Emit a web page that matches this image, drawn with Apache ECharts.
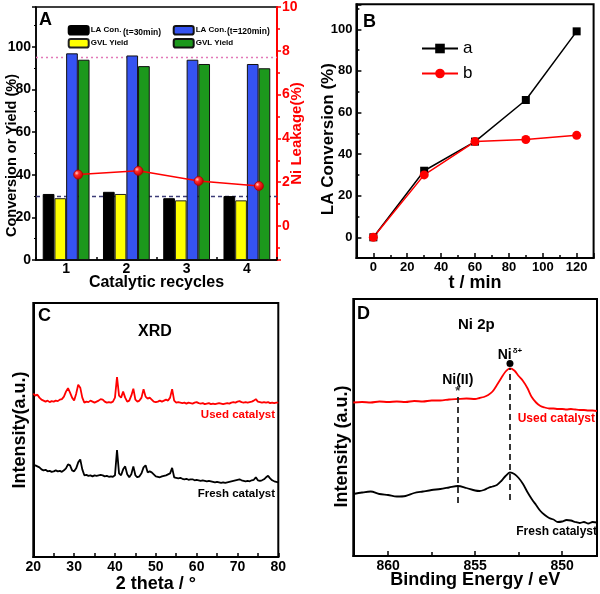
<!DOCTYPE html>
<html>
<head>
<meta charset="utf-8">
<script src="https://cdn.jsdelivr.net/npm/echarts@6.0.0/dist/echarts.min.js"></script>
<style>
html,body{margin:0;padding:0;background:#fff;}
#chart{width:600px;height:594px;}
</style>
</head>
<body>
<div id="chart"></div>
<script>
// ---------- Panel A : catalytic recycles ----------
const recycles = ['1', '2', '3', '4'];
const recycleIndex = [1, 2, 3, 4];
const laConv30 = [31, 32, 29, 30];
const gvlYield30 = [29, 31, 28, 28];
const laConv120 = [97, 96, 94, 92];
const gvlYield120 = [94, 91, 92, 90];
const niLeakage = [2.35, 2.52, 2.06, 1.83];
const refLinesA = [95, 30];

// ---------- Panel B : kinetics ----------
const timeMin = [0, 30, 60, 90, 120];
const convA = [0, 32, 46, 66, 99];
const convB = [0, 30, 46, 47, 49];

// ---------- Panel C : XRD ----------
const xrdAngle = [20,20.5,21,21.5,22,22.5,23,23.5,24,24.5,25,25.5,26,26.5,27,27.5,28,28.5,29,29.5,
  30,30.5,31,31.5,32,32.5,33,33.5,34,34.5,35,35.5,36,36.5,37,37.5,38,38.5,39,39.5,
  40,40.5,41,41.5,42,42.5,43,43.5,44,44.5,45,45.5,46,46.5,47,47.5,48,48.5,49,49.5,
  50,50.5,51,51.5,52,52.5,53,53.5,54,54.5,55,55.5,56,56.5,57,57.5,58,58.5,59,59.5,
  60,60.5,61,61.5,62,62.5,63,63.5,64,64.5,65,65.5,66,66.5,67,67.5,68,68.5,69,69.5,
  70,70.5,71,71.5,72,72.5,73,73.5,74,74.5,75,75.5,76,76.5,77,77.5,78,78.5,79,79.5,80];
const xrdUsed = [164,162,163,160,158,157,156,157,155.5,156.5,156,157,156.5,158,158.5,161,166,169.5,165,160,
  157,164,173,170,160,155,156,155.5,157,156,155,156,157,158.5,158,156,155,155.5,155,156,
  160,180.7,162,160,166,160,156,157,162,169,158,156,157,160,168.5,161,159,160,158,156,
  155.5,156,157,156,157,158,157,160,168.5,157,155,155.5,155,154.5,155,154,155,154.5,154,155,
  155.5,154.5,154,154.5,153.5,154,154.5,153.5,154,153.5,154,154.5,154,153.5,154,154.5,154,155,155.5,155,
  156,156.5,155.5,155,155.5,155,155.5,156,157,158.5,156,155.5,155,155.5,155,155.5,154.5,155,154.5,155,155];
const xrdFresh = [91.5,92,91,90,88,87,87.5,86,86.5,85.5,86,87,86,86.5,85.5,87,89,93,92,87,
  86,89,95,98,88,82,82.5,81.5,82,81,82,81.5,82,82.5,82,81,81.5,80.5,81,80.5,
  82,107.3,84,82,88,91,83,80,83,91,82,80,81,84,90,92,85,86,85,83,
  81,80.5,80,81,81.5,82,83,84,89.5,80,79.5,79,79.5,78.5,78,78.5,77.5,78,78,77,
  77.5,77,76.5,77,76.5,76,76.5,76,75.5,75,75.5,75,74.5,75,74.5,75,75.5,76,76.5,77,
  77.5,78,77,76.5,76,76.5,76,77,77.5,80,77,76.5,77,78,80,81.5,79,77,76,75.5,75];

// ---------- Panel D : XPS Ni 2p ----------
const xpsBE = [862,861.5,861,860.5,860,859.5,859,858.5,858,857.5,857,856.5,856,855.5,855,
  854.75,854.5,854.25,854,853.75,853.5,853.25,853,852.75,852.5,852.25,852,851.75,851.5,851.25,
  851,850.75,850.5,850.25,850,849.75,849.5,849.25,849,848.75,848.5,848.25,848];
const xpsUsed = [153.5,154,153.5,154.5,154,154.5,154,155,154.5,155.5,155.5,156.5,157,157.5,157,
  158,159,161,164.5,171,178,184.5,187.7,185.5,180,175,168,159,153.5,150,
  148.5,147.5,147.5,147,147,146.5,147,146.5,146,146,145.5,145.5,145];
const xpsFresh = [62,63.5,64.5,62,61,59.5,60,63,64.5,66,67,68.5,70,68,65.5,
  65,66,68,69.5,71,75,80,83.5,82,78,72,64,57,51,45,
  41,38,36.5,34,34.5,36,35.5,34,33,34,32.5,34,33.5];
const xpsPeakBE = [856, 853];
const xpsPeakLow = [53, 56];
const xpsPeakHigh = [160, 188];
const xpsPeakMarkY = [165, 192.5];
const xpsPeakLabelY = [176, 201];
const xpsPeakLabels = ['Ni(II)', 'Ni{sup|δ+}'];

const FONT = 'Liberation Sans, Arial, Helvetica, sans-serif';
const zip = (a, b) => a.map((v, i) => [v, b[i]]);
const bold = (size, color) => ({ fontFamily: FONT, fontWeight: 'bold', fontSize: size, color: color || '#000' });

const chart = echarts.init(document.getElementById('chart'), null, { renderer: 'canvas' });

const boxGrid = { show: true, borderColor: '#000', borderWidth: 2, backgroundColor: 'transparent', containLabel: false };

const option = {
  animation: false,
  backgroundColor: '#fff',
  grid: [
    Object.assign({ left: 36, top: 6.7, width: 241, height: 253.3 }, boxGrid, { borderWidth: 1.5 }),
    Object.assign({ left: 356.4, top: 4.3, width: 237.2, height: 253.8 }, boxGrid),
    Object.assign({ left: 33.3, top: 303, width: 245, height: 255 }, boxGrid),
    Object.assign({ left: 353.3, top: 299, width: 243.7, height: 257 }, boxGrid)
  ],
  legend: [
    {
      data: ['LA Con. (t=30min)', 'GVL Yield (t=30min)'],
      orient: 'vertical', left: 67.7, top: 25, padding: 0,
      itemWidth: 20, itemHeight: 8.5, itemGap: 2.5, selectedMode: false,
      formatter: n => n.split(' (')[0],
      textStyle: Object.assign(bold(8), { lineHeight: 9, padding: [0, 0, 0, -3] })
    },
    {
      data: ['LA Con. (t=120min)', 'GVL Yield (t=120min)'],
      orient: 'vertical', left: 172.7, top: 25, padding: 0,
      itemWidth: 20, itemHeight: 8.5, itemGap: 2.5, selectedMode: false,
      formatter: n => n.split(' (')[0],
      textStyle: Object.assign(bold(8), { lineHeight: 9, padding: [0, 0, 0, -3] })
    },
    {
      data: ['a', 'b'],
      orient: 'vertical', left: 421, top: 40, padding: 0,
      itemWidth: 36, itemHeight: 12, itemGap: 8, selectedMode: false,
      textStyle: { fontFamily: FONT, fontSize: 17, color: '#000' }
    }
  ],
  xAxis: [
    { // A categories
      type: 'category', gridIndex: 0, data: recycles,
      name: 'Catalytic recycles', nameLocation: 'middle', nameGap: 15, nameMoveOverlap: false,
      nameTextStyle: bold(16),
      axisLine: { show: true, lineStyle: { color: '#000', width: 1.5 } },
      axisTick: { show: true, inside: true, length: 3, lineStyle: { color: '#000', width: 1.5 } },
      axisLabel: Object.assign(bold(14), { margin: 2 }),
      splitLine: { show: false }
    },
    { // A hidden axis for leakage points (offset over the 120 min bars)
      type: 'value', gridIndex: 0, min: 0.3, max: 4.3, show: false,
      splitLine: { show: false }
    },
    { // B
      type: 'value', gridIndex: 1, min: -10, max: 130, splitNumber: 7,
      name: 't / min', nameLocation: 'middle', nameGap: 16, nameMoveOverlap: false, nameTextStyle: bold(18),
      axisLine: { show: true, onZero: false, lineStyle: { color: '#000', width: 2 } },
      axisTick: { show: true, inside: true, length: 5, lineStyle: { color: '#000', width: 1.5 } },
      minorTick: { show: true, splitNumber: 2, length: 3, lineStyle: { color: '#000', width: 1.5 } },
      axisLabel: Object.assign(bold(13), { margin: 3, showMinLabel: true, showMaxLabel: true,
        formatter: v => (v >= 0 && v <= 120 && v % 20 === 0) ? String(v) : '' }),
      splitLine: { show: false }
    },
    { // C
      type: 'value', gridIndex: 2, min: 20, max: 80, interval: 10,
      name: '2 theta / °', nameLocation: 'middle', nameGap: 18, nameMoveOverlap: false, nameTextStyle: bold(18),
      axisLine: { show: true, lineStyle: { color: '#000', width: 2 } },
      axisTick: { show: true, inside: true, length: 4, lineStyle: { color: '#000', width: 1.5 } },
      minorTick: { show: true, splitNumber: 2, length: 4, lineStyle: { color: '#000', width: 1.5 } },
      axisLabel: Object.assign(bold(14), { margin: 3 }),
      splitLine: { show: false }
    },
    { // D
      type: 'value', gridIndex: 3, min: 848, max: 862, splitNumber: 3, inverse: true,
      name: 'Binding Energy / eV', nameLocation: 'middle', nameGap: 15, nameMoveOverlap: false, nameTextStyle: bold(18),
      axisLine: { show: true, lineStyle: { color: '#000', width: 2 } },
      axisTick: { show: true, inside: true, length: 5, lineStyle: { color: '#000', width: 1.5 } },
      minorTick: { show: true, splitNumber: 2, length: 4, lineStyle: { color: '#000', width: 1.5 } },
      axisLabel: Object.assign(bold(14), { margin: 3,
        formatter: v => (v % 5 === 0) ? String(v) : '' }),
      splitLine: { show: false }
    }
  ],
  yAxis: [
    { // A left
      type: 'value', gridIndex: 0, min: 0, max: 118.75, interval: 20,
      name: 'Conversion or Yield (%)', nameLocation: 'middle', nameGap: 17, nameMoveOverlap: false,
      nameTextStyle: Object.assign(bold(14.5), { padding: [0, 44, 0, 0] }),
      axisLine: { show: true, lineStyle: { color: '#000', width: 1.5 } },
      axisTick: { show: true, inside: false, length: 4, lineStyle: { color: '#000', width: 1.5 } },
      minorTick: { show: true, splitNumber: 2, length: 2, lineStyle: { color: '#000', width: 1.2 } },
      axisLabel: Object.assign(bold(14), { margin: 5,
        formatter: v => (v % 20 === 0 && v <= 100) ? String(v) : '' }),
      splitLine: { show: false }
    },
    { // A right (Ni leakage)
      type: 'value', gridIndex: 0, position: 'right', min: -1.55, max: 10, splitNumber: 5,
      name: 'Ni Leakage(%)', nameLocation: 'middle', nameGap: 12.5, nameMoveOverlap: false, nameTextStyle: bold(15, '#f00'),
      axisLine: { show: true, lineStyle: { color: '#f00', width: 2 } },
      axisTick: { show: true, inside: false, length: 4, lineStyle: { color: '#f00', width: 1.5 } },
      minorTick: { show: true, splitNumber: 2, length: 3, lineStyle: { color: '#f00', width: 1.5 } },
      axisLabel: Object.assign(bold(14, '#f00'), { margin: 5,
        formatter: v => (v >= 0 && Math.abs(v % 2) < 1e-9) ? String(v) : '' }),
      splitLine: { show: false }
    },
    { // B
      type: 'value', gridIndex: 1, min: -10, max: 112, splitNumber: 6,
      name: 'LA Conversion (%)', nameLocation: 'middle', nameGap: 20, nameMoveOverlap: false,
      nameTextStyle: Object.assign(bold(17), { padding: [0, 16, 0, 0] }),
      axisLine: { show: true, onZero: false, lineStyle: { color: '#000', width: 2 } },
      axisTick: { show: true, inside: true, length: 5, lineStyle: { color: '#000', width: 1.5 } },
      minorTick: { show: true, splitNumber: 2, length: 3, lineStyle: { color: '#000', width: 1.5 } },
      axisLabel: Object.assign(bold(13), { margin: 4,
        formatter: v => (v >= 0 && v <= 100 && v % 20 === 0) ? String(v) : '' }),
      splitLine: { show: false }
    },
    { // C
      type: 'value', gridIndex: 2, min: 0, max: 255,
      name: 'Intensity(a.u.)', nameLocation: 'middle', nameGap: 4, nameMoveOverlap: false, nameTextStyle: bold(18),
      axisLine: { show: true, lineStyle: { color: '#000', width: 2 } },
      axisTick: { show: false }, axisLabel: { show: false }, splitLine: { show: false }
    },
    { // D
      type: 'value', gridIndex: 3, min: 0, max: 257,
      name: 'Intensity (a.u.)', nameLocation: 'middle', nameGap: 2, nameMoveOverlap: false,
      nameTextStyle: Object.assign(bold(18), { padding: [0, 38, 0, 0] }),
      axisLine: { show: true, lineStyle: { color: '#000', width: 2 } },
      axisTick: { show: false }, axisLabel: { show: false }, splitLine: { show: false }
    }
  ],
  series: [
    // ---- A ----
    { type: 'line', name: 'refA', xAxisIndex: 0, yAxisIndex: 0, data: [], z: 1, silent: true,
      markLine: { silent: true, symbol: 'none', label: { show: false }, z: 1,
        data: [
          { yAxis: refLinesA[0], lineStyle: { color: '#e27ab8', type: [2, 3], width: 1.3 } },
          { yAxis: refLinesA[1], lineStyle: { color: '#3c3c78', type: [4, 3], width: 1.3 } }
        ] } },
    { type: 'bar', name: 'LA Con. (t=30min)', xAxisIndex: 0, yAxisIndex: 0, data: laConv30,
      barWidth: 11.7, barGap: '0%', z: 3,
      itemStyle: { color: '#000', borderColor: '#000', borderWidth: 1 } },
    { type: 'bar', name: 'GVL Yield (t=30min)', xAxisIndex: 0, yAxisIndex: 0, data: gvlYield30,
      barWidth: 11.7, barGap: '0%', z: 3,
      itemStyle: { color: '#ffff00', borderColor: '#222', borderWidth: 1 } },
    { type: 'bar', name: 'LA Con. (t=120min)', xAxisIndex: 0, yAxisIndex: 0, data: laConv120,
      barWidth: 11.7, barGap: '0%', z: 3,
      itemStyle: { color: '#3553f2', borderColor: '#111', borderWidth: 1 } },
    { type: 'bar', name: 'GVL Yield (t=120min)', xAxisIndex: 0, yAxisIndex: 0, data: gvlYield120,
      barWidth: 11.7, barGap: '0%', z: 3,
      itemStyle: { color: '#1c981c', borderColor: '#111', borderWidth: 1 } },
    { type: 'line', name: 'Ni leakage', xAxisIndex: 1, yAxisIndex: 1, data: zip(recycleIndex, niLeakage),
      z: 6, symbol: 'circle', symbolSize: 9,
      lineStyle: { color: '#f00', width: 1.5 },
      itemStyle: { color: new echarts.graphic.RadialGradient(0.35, 0.35, 0.65, [
        { offset: 0, color: '#ffd0d0' }, { offset: 0.35, color: '#ff2a2a' }, { offset: 1, color: '#c00000' }]),
        borderColor: '#b00000', borderWidth: 0.8 } },
    // ---- B ----
    { type: 'line', name: 'a', xAxisIndex: 2, yAxisIndex: 2, data: zip(timeMin, convA),
      symbol: 'rect', symbolSize: 8, color: '#000', lineStyle: { color: '#000', width: 1.5 },
      itemStyle: { color: '#000' } },
    { type: 'line', name: 'b', xAxisIndex: 2, yAxisIndex: 2, data: zip(timeMin, convB),
      symbol: 'circle', symbolSize: 9, color: '#f00', lineStyle: { color: '#f00', width: 1.5 },
      itemStyle: { color: '#f00' } },
    // ---- C ----
    { type: 'line', name: 'XRD used', xAxisIndex: 3, yAxisIndex: 3, data: zip(xrdAngle, xrdUsed),
      showSymbol: false, lineStyle: { color: '#f00', width: 1.8 } },
    { type: 'line', name: 'XRD fresh', xAxisIndex: 3, yAxisIndex: 3, data: zip(xrdAngle, xrdFresh),
      showSymbol: false, lineStyle: { color: '#000', width: 1.8 } },
    // ---- D ----
    { type: 'line', name: 'XPS used', xAxisIndex: 4, yAxisIndex: 4, data: zip(xpsBE, xpsUsed),
      showSymbol: false, smooth: 0.3, lineStyle: { color: '#f00', width: 1.8 } },
    { type: 'line', name: 'XPS fresh', xAxisIndex: 4, yAxisIndex: 4, data: zip(xpsBE, xpsFresh),
      showSymbol: false, smooth: 0.3, lineStyle: { color: '#000', width: 1.8 } },
    { type: 'line', name: 'XPS guides', xAxisIndex: 4, yAxisIndex: 4, data: [], silent: true,
      markLine: { silent: true, symbol: 'none', label: { show: false },
        lineStyle: { color: '#222', type: [6, 4], width: 1.8 },
        data: xpsPeakBE.map((be, i) => [{ coord: [be, xpsPeakLow[i]] }, { coord: [be, xpsPeakHigh[i]] }]) } },
    { type: 'scatter', name: 'XPS star', xAxisIndex: 4, yAxisIndex: 4, silent: true,
      data: [[xpsPeakBE[0], xpsPeakMarkY[0]]], symbolSize: 0, itemStyle: { opacity: 1 },
      label: { show: true, position: 'inside', formatter: '*', fontFamily: FONT, fontWeight: 'bold', fontSize: 13, color: '#333', opacity: 1 } },
    { type: 'scatter', name: 'XPS dot', xAxisIndex: 4, yAxisIndex: 4, silent: true,
      data: [[xpsPeakBE[1], xpsPeakMarkY[1]]], symbol: 'circle', symbolSize: 7, itemStyle: { color: '#000', opacity: 1 } },
    { type: 'scatter', name: 'XPS tags', xAxisIndex: 4, yAxisIndex: 4, silent: true,
      data: zip(xpsPeakBE, xpsPeakLabelY), symbolSize: 0, itemStyle: { opacity: 1 },
      label: { show: true, position: 'inside', opacity: 1,
        formatter: p => xpsPeakLabels[p.dataIndex],
        fontFamily: FONT, fontWeight: 'bold', fontSize: 14, color: '#000',
        rich: { sup: { fontFamily: FONT, fontSize: 8, color: '#000', verticalAlign: 'top', padding: [0, 0, 8, 1] } } } }
  ],
  graphic: [
    { type: 'text', left: 39, top: 11, style: { text: 'A', font: 'bold 18px ' + FONT, fill: '#000' } },
    { type: 'text', left: 123, top: 28.5, style: { text: '(t=30min)', font: 'bold 8.5px ' + FONT, fill: '#000' } },
    { type: 'text', left: 227, top: 27.5, style: { text: '(t=120min)', font: 'bold 8.5px ' + FONT, fill: '#000' } },
    { type: 'text', left: 363, top: 13, style: { text: 'B', font: 'bold 18px ' + FONT, fill: '#000' } },
    { type: 'text', left: 38, top: 307, style: { text: 'C', font: 'bold 18px ' + FONT, fill: '#000' } },
    { type: 'text', left: 138, top: 324, style: { text: 'XRD', font: 'bold 16px ' + FONT, fill: '#000' } },
    { type: 'text', right: 325, top: 409, style: { text: 'Used catalyst', font: 'bold 11.5px ' + FONT, fill: '#f00' } },
    { type: 'text', right: 325, top: 488, style: { text: 'Fresh catalyst', font: 'bold 11.5px ' + FONT, fill: '#000' } },
    { type: 'text', left: 357, top: 305, style: { text: 'D', font: 'bold 18px ' + FONT, fill: '#000' } },
    { type: 'text', left: 458, top: 317, style: { text: 'Ni 2p', font: 'bold 15px ' + FONT, fill: '#000' } },
    { type: 'text', right: 5, top: 413, style: { text: 'Used catalyst', font: 'bold 12px ' + FONT, fill: '#f00' } },
    { type: 'text', right: 3, top: 526, style: { text: 'Fresh catalyst', font: 'bold 12px ' + FONT, fill: '#000' } }
  ]
};

chart.setOption(option);
</script>
</body>
</html>
